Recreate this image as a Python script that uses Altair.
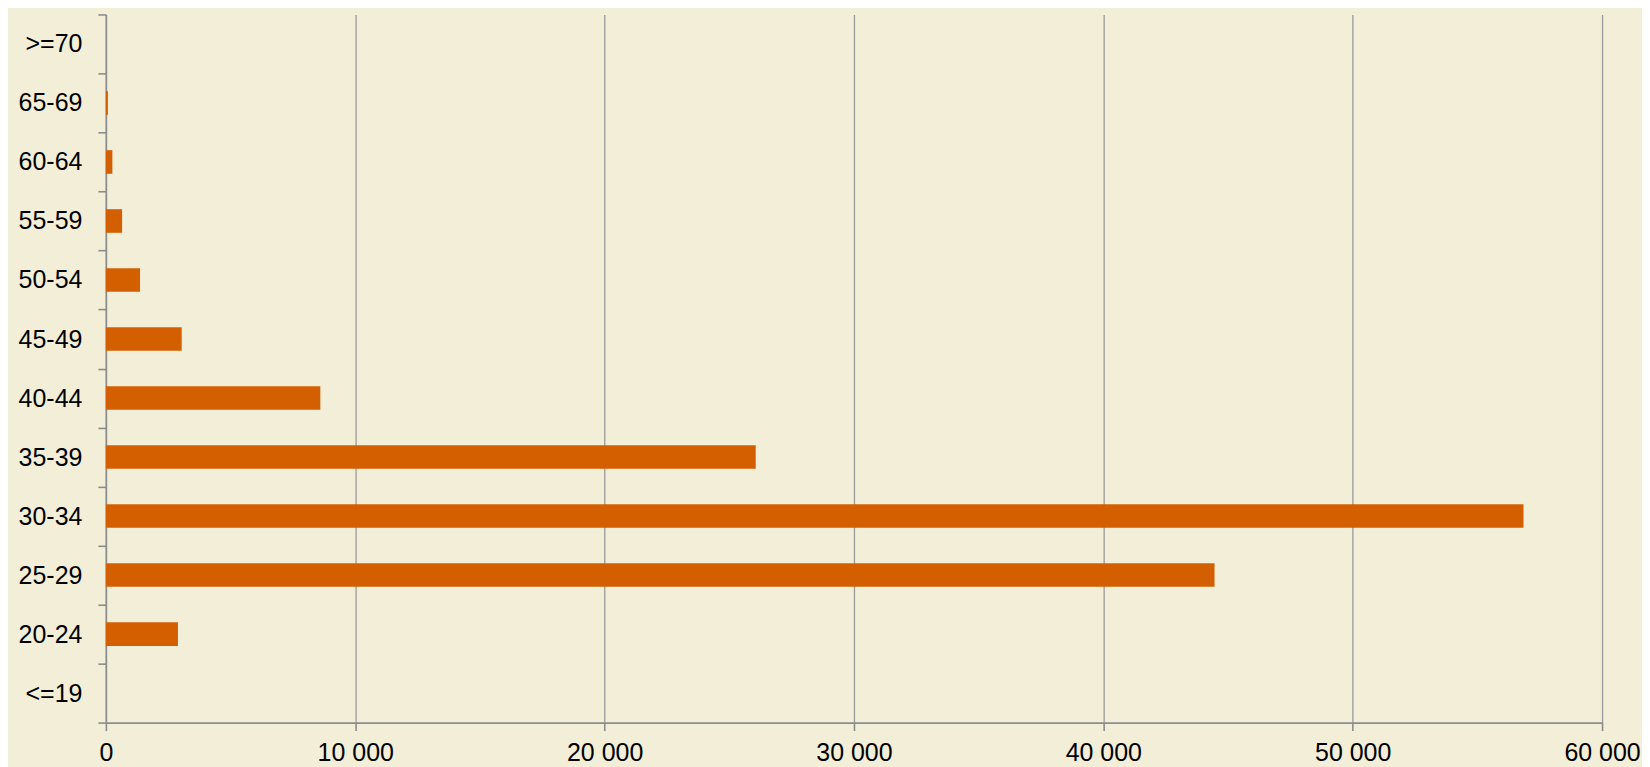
import altair as alt
import pandas as pd

age_groups = [">=70", "65-69", "60-64", "55-59", "50-54", "45-49",
              "40-44", "35-39", "30-34", "25-29", "20-24", "<=19"]
counts = [0, 80, 260, 650, 1370, 3040, 8600, 26060, 56850, 44460, 2890, 0]
x_ticks = [0, 10000, 20000, 30000, 40000, 50000, 60000]

df = pd.DataFrame({"age": age_groups, "count": counts})

FONT = "Liberation Sans"
BG = "#F3EED8"

chart = alt.Chart(df).mark_bar(
    height=alt.RelativeBandSize(band=0.4),
    color="#D35F00",
).encode(
    x=alt.X("count:Q",
            scale=alt.Scale(domain=[0, 60000], nice=False),
            axis=alt.Axis(values=x_ticks, title=None, grid=True,
                          gridColor="#9a9a9a", gridWidth=1.3,
                          domainColor="#8c8c8c", domainWidth=1.6,
                          tickColor="#8c8c8c", tickWidth=1.6, tickSize=8,
                          labelFont=FONT, labelFontSize=25, labelColor="#000000",
                          labelPadding=10, labelFlush=False,
                          labelExpr="replace(format(datum.value, ','), regexp(',', 'g'), ' ')")),
    y=alt.Y("age:N", sort=age_groups,
            scale=alt.Scale(paddingInner=0, paddingOuter=0),
            axis=alt.Axis(title=None, tickBand="extent", grid=False,
                          domainColor="#8c8c8c", domainWidth=1.6,
                          tickColor="#8c8c8c", tickWidth=1.6, tickSize=8,
                          labelFont=FONT, labelFontSize=25, labelColor="#000000",
                          labelPadding=16)),
).properties(
    width=1498,
    height=709,
    autosize=alt.AutoSizeParams(type="none"),
    padding={"left": 98, "top": 6, "right": 40, "bottom": 44},
    background=BG,
).configure_view(
    fill=BG,
    stroke=None,
)

chart.save("out.html", embed_options={"renderer": "svg", "actions": False})
